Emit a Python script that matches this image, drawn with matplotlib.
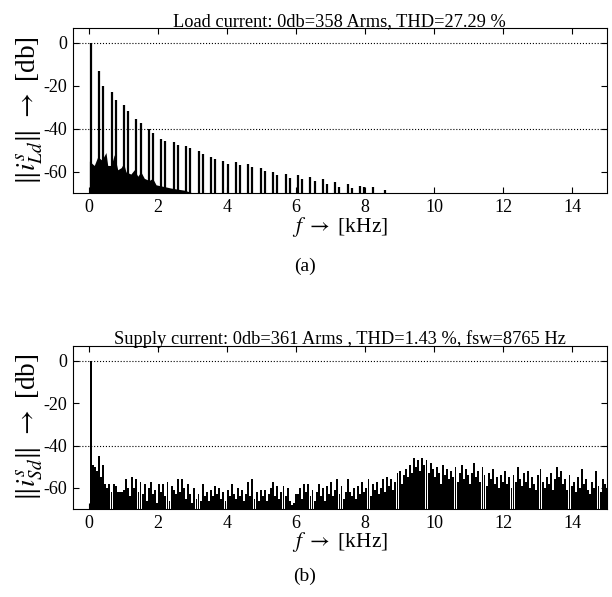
import numpy as np
import matplotlib
matplotlib.use("Agg")
import matplotlib.pyplot as plt

plt.rcParams['font.family'] = ['Liberation Serif', 'DejaVu Serif']
plt.rcParams['mathtext.fontset'] = 'stix'
plt.rcParams['axes.unicode_minus'] = False

# (a) load current: 6k+-1 harmonics of 60 Hz [kHz] and their levels [db]
load_harm_f = [0.06, 0.30, 0.42, 0.66, 0.78, 1.02, 1.14, 1.38, 1.50, 1.74, 1.86,
               2.10, 2.22, 2.46, 2.58, 2.82, 2.94, 3.18, 3.30, 3.54, 3.66, 3.90,
               4.02, 4.26, 4.38, 4.62, 4.74, 4.98, 5.10, 5.34, 5.46, 5.70, 5.82,
               6.06, 6.18, 6.42, 6.54, 6.78, 6.90, 7.14, 7.26, 7.50, 7.62, 7.86,
               7.98, 8.22, 8.58]
load_harm_db = [0, -12.9, -20, -22.9, -26.4, -29.1, -31.6, -35.2, -37.1, -40.1, -42.1,
                -44.7, -45.5, -46.3, -47.3, -47.8, -49, -50.4, -51.6, -53.1, -54.2, -54.7,
                -56.2, -55.4, -57, -56.5, -57.7, -58.2, -59.5, -60, -61.6, -61.1, -62.6,
                -61.6, -63.1, -62.3, -64.1, -63.5, -65.4, -64.9, -66.9, -65.8, -67.3, -66.4,
                -67.2, -66.9, -68.4]

# (a) noise floor envelope
load_floor_f = [0.02, 0.16, 0.26, 0.38, 0.5, 0.55, 0.65, 0.74, 0.84, 0.94, 1.01, 1.08, 1.22,
                1.32, 1.42, 1.51, 1.61, 1.75, 1.85, 1.95, 2.09, 2.24, 2.38, 2.57, 2.77, 3.05]
load_floor_db = [-55, -57, -53, -54.5, -51, -57, -57, -52, -59, -58, -56, -60, -61,
                 -59, -62, -60, -63, -64, -63, -66, -66.5, -67, -67.5, -68, -68.5, -70]

# (b) supply current spectrum, one value per 60 Hz bin from 0.06 to 15 kHz [db]
supply_db = [
    0, -49, -50, -52, -45, -55, -49, -58, -60, -58, -62, -58, -59, -62, -62, -62, -61, -56, -60, -64, -55, -60, -56, -62, -57,
    -63, -58, -66, -60, -57, -63, -61, -67, -58, -62, -58, -64, -57, -66, -59, -61, -63, -56, -62, -56, -60, -65, -58, -63, -67,
    -60, -65, -63, -66, -58, -64, -62, -66, -61, -64, -59, -63, -60, -65, -62, -66, -61, -64, -58, -63, -65, -60, -64, -61, -66,
    -63, -57, -64, -56, -65, -62, -66, -61, -64, -61, -66, -63, -60, -57, -64, -59, -65, -62, -59, -64, -60, -66, -68, -67, -63,
    -63, -60, -65, -58, -62, -58, -64, -61, -66, -62, -58, -64, -60, -66, -59, -63, -57, -64, -61, -56, -63, -59, -65, -62, -56,
    -62, -64, -60, -65, -59, -63, -57, -62, -60, -56, -64, -58, -61, -57, -63, -60, -56, -62, -55, -59, -56, -61, -57, -53, -52,
    -58, -54, -51, -55, -49, -53, -46, -50, -47, -52, -46, -49, -47, -53, -48, -51, -55, -50, -53, -58, -49, -54, -51, -56, -52,
    -55, -50, -57, -53, -49, -56, -51, -54, -58, -53, -48, -55, -52, -57, -50, -54, -59, -53, -56, -51, -58, -55, -60, -54, -57,
    -52, -58, -55, -60, -54, -57, -50, -56, -59, -53, -57, -52, -60, -55, -58, -61, -54, -51, -57, -60, -55, -58, -53, -61, -56,
    -50, -55, -52, -58, -56, -61, -54, -59, -57, -62, -55, -60, -51, -58, -56, -61, -63, -57, -60, -52, -59, -62, -56, -58, -60,
]
supply_f = np.round(0.06 * np.arange(1, len(supply_db) + 1), 2)

titles = ["Load current: 0db=358 Arms, THD=27.29 %",
          "Supply current: 0db=361 Arms , THD=1.43 %, fsw=8765 Hz"]
ylabels = [r"$\|i^s_{Ld}\|\ \rightarrow$ [db]", r"$\|i^s_{Sd}\|\ \rightarrow$ [db]"]

fig = plt.figure(figsize=(6.12, 5.97), dpi=100)
ax1 = fig.add_axes([0.119, 0.676, 0.8725, 0.2774])
ax2 = fig.add_axes([0.119, 0.147, 0.8725, 0.274])

ax1.fill_between(load_floor_f, -70, load_floor_db, color='k', lw=0)
ax1.vlines(load_harm_f, -70, load_harm_db, color='k', lw=1.6)

ax2.bar(supply_f, np.array(supply_db) + 70, bottom=-70, width=0.055, color='k', lw=0)

for ax, t, yl in zip([ax1, ax2], titles, ylabels):
    ax.axhline(0, color='k', ls=':', lw=0.8)
    ax.axhline(-40, color='k', ls=':', lw=0.8)
    ax.set_xlim(-0.46, 15.0)
    ax.set_ylim(-70, 7)
    ax.set_xticks(range(0, 15, 2))
    ax.set_yticks([-60, -40, -20, 0])
    ax.tick_params(direction='in', top=True, right=True, length=4, labelsize=13, pad=4)
    ax.set_title(t, fontsize=13.2, pad=1)
    ax.set_xlabel(r"$f\ \rightarrow$ [kHz]", fontsize=15.5, labelpad=-1)
    ax.set_ylabel(yl, fontsize=19.5, labelpad=-1)

fig.text(0.498, 1 - 266 / 597, "(a)", ha='center', va='center', fontsize=14)
fig.text(0.498, 1 - 576 / 597, "(b)", ha='center', va='center', fontsize=14)

fig.savefig("out.png", dpi=100)
